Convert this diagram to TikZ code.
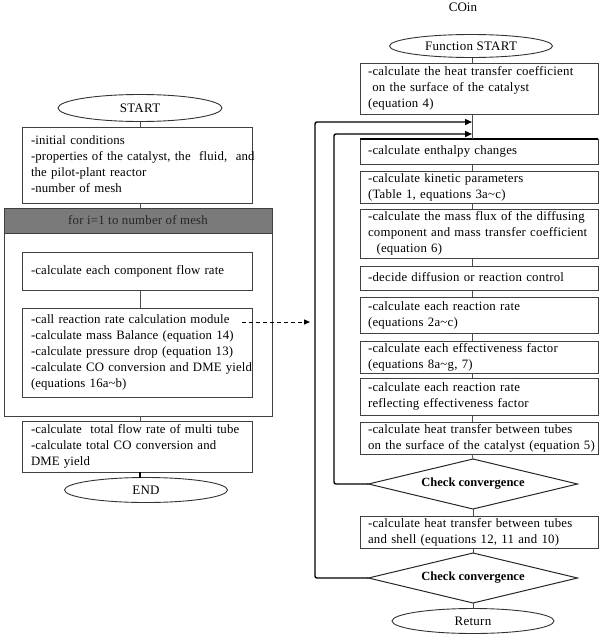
\documentclass[tikz,border=0pt]{standalone}
\usepackage{fontspec}
\setmainfont{Liberation Serif}
\usetikzlibrary{shapes.geometric,arrows.meta}
\definecolor{hdrgray}{RGB}{122,122,122}
\newcommand\mlines[1]{\begin{tabular}{@{}l@{}}#1\end{tabular}}
\begin{document}
\begin{tikzpicture}[x=1pt,y=-1pt,
 txt/.style={font=\fontsize{12.8}{16}\selectfont},
 box/.style={draw=black!75, line width=0.8pt, rectangle, inner xsep=8pt, inner ysep=0pt, outer sep=0pt, align=left, anchor=north west, txt},
 lbox/.style={box, inner xsep=9pt, text width=212pt, font=\fontsize{12.8}{16}\selectfont\addfontfeature{LetterSpace=1}},
 rbox/.style={box, inner xsep=8pt, text width=222pt, font=\fontsize{12.8}{16}\selectfont\addfontfeature{LetterSpace=2}},
 frame/.style={draw=black!75, line width=0.8pt, rectangle, inner sep=0pt, outer sep=0pt, anchor=north west},
 oval/.style={draw=black!80, line width=0.9pt, ellipse, inner sep=0pt, outer sep=0pt, font=\fontsize{13}{16}\selectfont\addfontfeature{LetterSpace=2}},
 dia/.style={draw=black!85, line width=1pt, diamond, inner sep=0pt, outer sep=0pt, aspect=4.18, minimum width=209pt, minimum height=50pt, font=\bfseries\fontsize{12.5}{14}\selectfont},
 link/.style={draw=black!70, line width=0.7pt},
 loopl/.style={draw=black, line width=1.4pt, rounded corners=2pt, -{Triangle[length=7pt,width=6pt]}},
]
\useasboundingbox (0,0) rectangle (607,637);

\node[txt, font=\fontsize{13}{16}\selectfont, anchor=center] (coin) at (463,7) {COin};

% ---------- left column ----------
\node[oval, minimum width=164pt, minimum height=27pt] (start) at (140,108) {START};
\node[lbox, minimum height=76pt] (init) at (22,127) {\mlines{-initial conditions\\-properties of the catalyst, the\ \ fluid,\ \ and\\the pilot-plant reactor\\-number of mesh}};
\node[frame, minimum width=268pt, minimum height=208pt] (loop) at (4,208) {};
\node[frame, fill=hdrgray, minimum width=268pt, minimum height=25pt, font=\fontsize{12.8}{16}\selectfont\addfontfeature{LetterSpace=2}, text=black!85] (hdr) at (4,208) {for i=1 to number of mesh};
\node[lbox, minimum height=38pt] (comp) at (22,252) {\mlines{-calculate each component flow rate}};
\node[lbox, minimum height=89pt] (call) at (22,308) {\mlines{-call reaction rate calculation module\\-calculate mass Balance (equation 14)\\-calculate pressure drop (equation 13)\\-calculate CO conversion and DME yield\\(equations 16a\textasciitilde b)}};
\node[lbox, minimum height=51pt] (total) at (22,421) {\mlines{-calculate\ \ total flow rate of multi tube\\-calculate total CO conversion and\\DME yield}};
\node[oval, minimum width=163pt, minimum height=25pt] (end) at (146,490) {END};

\coordinate (lx) at (140,0);
\draw[link] (start.south) -- (init.north -| start.south);
\draw[link] (init.south -| lx) -- (loop.north -| lx);
\draw[link] (comp.south -| lx) -- (call.north -| lx);
\draw[link] (loop.south -| lx) -- (total.north -| lx);
\draw[black, line width=1.5pt] (total.south -| lx) -- (end.north -| lx);

% dashed call arrow
\coordinate (da) at (242,322);
\coordinate (db) at (310,322);
\draw[black, line width=1pt, dash pattern=on 4pt off 3pt, -{Triangle[length=6pt,width=5pt]}] (da) -- (db);

% ---------- right column ----------
\node[oval, minimum width=163pt, minimum height=23pt] (fs) at (471,46) {Function START};
\node[rbox, minimum height=51pt] (b1) at (360,63) {\mlines{-calculate the heat transfer coefficient\\\ on the surface of the catalyst\\(equation 4)}};
\node[rbox, minimum height=25pt] (b2) at (360,139) {\mlines{-calculate enthalpy changes}};
\node[rbox, minimum height=32pt] (b3) at (360,171) {\mlines{-calculate kinetic parameters\\(Table 1, equations 3a\textasciitilde c)}};
\node[rbox, minimum height=49pt] (b4) at (360,209) {\mlines{-calculate the mass flux of the diffusing\\component and mass transfer coefficient\\\ \ (equation 6)}};
\node[rbox, minimum height=24pt] (b5) at (360,266) {\mlines{-decide diffusion or reaction control}};
\node[rbox, minimum height=36pt] (b6) at (360,297) {\mlines{-calculate each reaction rate\\(equations 2a\textasciitilde c)}};
\node[rbox, minimum height=31pt] (b7) at (360,341) {\mlines{-calculate each effectiveness factor\\(equations 8a\textasciitilde g, 7)}};
\node[rbox, minimum height=37pt] (b8) at (360,378) {\mlines{-calculate each reaction rate\\reflecting effectiveness factor}};
\node[rbox, minimum height=31pt] (b9) at (360,422) {\mlines{-calculate heat transfer between tubes\\on the surface of the catalyst (equation 5)}};
\node[dia] (d1) at (473,484) {Check convergence};
\node[rbox, minimum height=31pt] (b10) at (360,516) {\mlines{-calculate heat transfer between tubes\\and shell (equations 12, 11 and 10)}};
\node[dia] (d2) at (473,578) {Check convergence};
\node[oval, minimum width=162pt, minimum height=25pt] (ret) at (473,621) {Return};

\draw[black, line width=1.2pt] (b2.north west) -- (b2.north east);

\coordinate (rx) at (472,0);
\draw[link] (fs.south -| rx) -- (b1.north -| rx);
\draw[link] (b1.south -| rx) -- (b2.north -| rx);
\draw[link] (b2.south -| rx) -- (b3.north -| rx);
\draw[link] (b3.south -| rx) -- (b4.north -| rx);
\draw[link] (b4.south -| rx) -- (b5.north -| rx);
\draw[link] (b5.south -| rx) -- (b6.north -| rx);
\draw[link] (b6.south -| rx) -- (b7.north -| rx);
\draw[link] (b7.south -| rx) -- (b8.north -| rx);
\draw[link] (b8.south -| rx) -- (b9.north -| rx);
\draw[link] (b9.south -| rx) -- (d1.north);
\draw[link] (d1.south) -- (b10.north -| d1.south);
\draw[link] (b10.south -| d2.north) -- (d2.north);
\draw[link] (d2.south) -- (ret.north);

% loops
\coordinate (i1) at (334,134);
\coordinate (o1) at (315,122);
\draw[loopl] (d1.west) -- (d1.west -| i1) -- (i1) -- (i1 -| rx);
\draw[loopl] (d2.west) -- (d2.west -| o1) -- (o1) -- (o1 -| rx);
\end{tikzpicture}
\end{document}
